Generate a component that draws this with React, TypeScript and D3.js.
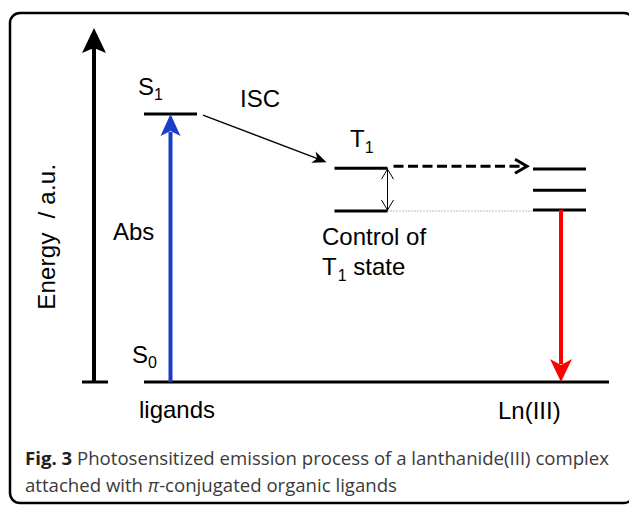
import React from 'react'
import * as d3 from 'd3'

// energy levels (a.u., S0 = 0, top of axis = 100)
const ligandLevels = ['S0', 'S1']
const ligandEnergies = [0, 75.7]
const tripletLevels = ['T1', 'T1 lowered']
const tripletEnergies = [60.4, 48.3]
const lnLevels = ['Ln a', 'Ln b', 'Ln c']
const lnEnergies = [60.2, 54.2, 48.6]
const columns = ['ligands', 'triplet', 'Ln(III)']
const captionLines = [
  'Photosensitized emission process of a lanthanide(III) complex',
  'attached with ',
  'π',
  '-conjugated organic ligands',
]

const W = 629
const H = 506
const FONT = '"Liberation Sans", Arial, sans-serif'

function App() {
  const y = d3.scaleLinear().domain([0, 100]).range([382, 28])
  const x = d3.scaleLinear().domain([0, 1, 2]).range([170.5, 361, 559.5])
  const half = 26.5

  const axisX = 94
  const s0 = y(ligandEnergies[0])
  const s1 = y(ligandEnergies[1])
  const t1 = y(tripletEnergies[0])
  const t1low = y(tripletEnergies[1])
  const blueX = x(0)
  const redX = x(2) + 1.5
  const tRight = x(1) + half

  // ISC arrow
  const iscFrom = [x(0) + half + 6, s1 + 1]
  const iscTo = [x(1) - half - 8, t1 - 6]
  const ang = Math.atan2(iscTo[1] - iscFrom[1], iscTo[0] - iscFrom[0])
  const rot = (dx: number, dy: number) => [
    iscTo[0] + dx * Math.cos(ang) - dy * Math.sin(ang),
    iscTo[1] + dx * Math.sin(ang) + dy * Math.cos(ang),
  ]
  const iscHead = [rot(0, 0), rot(-14, -6), rot(-10, 0), rot(-14, 6)]

  const dashEnd = x(2) - half - 6
  const dashY = t1 - 2

  return (
    <svg width={W} height={H} style={{ position: 'absolute', left: 0, top: 0 }}
      fontFamily={FONT}>
      <rect x={0} y={0} width={W} height={H} fill="#fff" />
      <rect x={10} y={13} width={624} height={490} rx={10} ry={10}
        fill="none" stroke="#000" strokeWidth={2.5} />

      {/* energy axis */}
      <line x1={axisX} x2={axisX} y1={s0} y2={y(100) + 20} stroke="#000" strokeWidth={4} />
      <path d={`M${axisX},${y(100)} L${axisX + 12},${y(100) + 25} L${axisX},${y(100) + 20} L${axisX - 12},${y(100) + 25} Z`}
        fill="#000" />
      <line x1={axisX - 12} x2={axisX + 14} y1={s0} y2={s0} stroke="#000" strokeWidth={3} />
      <text transform={`translate(55,${y(41)}) rotate(-90)`}
        textAnchor="middle" fontSize={24} xmlSpace="preserve"
        textLength={146} lengthAdjust="spacing">Energy  / a.u.</text>

      {/* ground state */}
      <line x1={x(0) - half} x2={x(2) + half + 23} y1={s0} y2={s0} stroke="#000" strokeWidth={3} />

      {/* S1 */}
      <line x1={x(0) - half} x2={x(0) + half} y1={s1} y2={s1} stroke="#000" strokeWidth={3} />

      {/* T1 and lowered T1 */}
      {tripletEnergies.map((e, i) => (
        <line key={tripletLevels[i]} x1={x(1) - half} x2={x(1) + half}
          y1={y(e)} y2={y(e)} stroke="#000" strokeWidth={3} />
      ))}

      {/* Ln levels */}
      {lnEnergies.map((e, i) => (
        <line key={lnLevels[i]} x1={x(2) - half} x2={x(2) + half}
          y1={y(e)} y2={y(e)} stroke="#000" strokeWidth={3} />
      ))}

      {/* absorption */}
      <line x1={blueX} x2={blueX} y1={s0} y2={s1 + 18} stroke="#1a3fc6" strokeWidth={4} />
      <path d={`M${blueX},${s1} L${blueX + 10},${s1 + 22} L${blueX},${s1 + 17} L${blueX - 10},${s1 + 22} Z`}
        fill="#1a3fc6" />

      {/* emission */}
      <line x1={redX} x2={redX} y1={y(lnEnergies[2])} y2={s0 - 18} stroke="#ff0000" strokeWidth={4} />
      <path d={`M${redX},${s0} L${redX + 11},${s0 - 23} L${redX},${s0 - 17} L${redX - 11},${s0 - 23} Z`}
        fill="#ff0000" />

      {/* ISC */}
      <line x1={iscFrom[0]} y1={iscFrom[1]} x2={rot(-9, 0)[0]} y2={rot(-9, 0)[1]}
        stroke="#000" strokeWidth={1.3} />
      <path d={'M' + iscHead.map(p => p.join(',')).join('L') + 'Z'} fill="#000" />

      {/* T1 control double arrow */}
      <line x1={tRight} x2={tRight} y1={t1} y2={t1low} stroke="#000" strokeWidth={1} />
      <path d={`M${tRight - 6},${t1 + 11} L${tRight},${t1 + 1} L${tRight + 6},${t1 + 11}`}
        fill="none" stroke="#000" strokeWidth={1} />
      <path d={`M${tRight - 6},${t1low - 11} L${tRight},${t1low - 1} L${tRight + 6},${t1low - 11}`}
        fill="none" stroke="#000" strokeWidth={1} />

      {/* dotted guide */}
      <line x1={tRight} x2={x(2) - half} y1={t1low} y2={t1low}
        stroke="#777" strokeWidth={1} strokeDasharray="1,2" />

      {/* energy transfer */}
      <line x1={tRight + 6} x2={dashEnd - 2} y1={dashY} y2={dashY}
        stroke="#000" strokeWidth={3} strokeDasharray="10,4.5" />
      <path d={`M${dashEnd - 12},${dashY - 7} L${dashEnd},${dashY} L${dashEnd - 12},${dashY + 7}`}
        fill="none" stroke="#000" strokeWidth={3} />

      {/* labels */}
      <g fontSize={24} fill="#000">
        <text x={138} y={95}>S<tspan fontSize={16} dy={5}>1</tspan></text>
        <text x={240} y={107}>ISC</text>
        <text x={113} y={240}>Abs</text>
        <text x={132} y={363}>S<tspan fontSize={16} dy={5}>0</tspan></text>
        <text x={350} y={147}>T<tspan fontSize={16} dy={6}>1</tspan></text>
        <text x={322} y={245}>Control of</text>
        <text x={322} y={275}>T<tspan fontSize={16} dy={6} dx={1}>1</tspan><tspan dy={-6}> state</tspan></text>
        <text x={139} y={418}>{columns[0]}</text>
        <text x={498} y={419}>{columns[2]}</text>
      </g>

      {/* caption */}
      <g fontFamily='"Open Sans", "Noto Sans", sans-serif' fontSize={18.6} fill="#3a3a3a">
        <text x={25} y={465} textLength={584} lengthAdjust="spacing">
          <tspan fontWeight="bold" fill="#222">Fig. 3</tspan> {captionLines[0]}
        </text>
        <text x={25} y={492} xmlSpace="preserve">
          {captionLines[1]}<tspan fontStyle="italic">{captionLines[2]}</tspan>{captionLines[3]}
        </text>
      </g>
    </svg>
  )
}

export default App
